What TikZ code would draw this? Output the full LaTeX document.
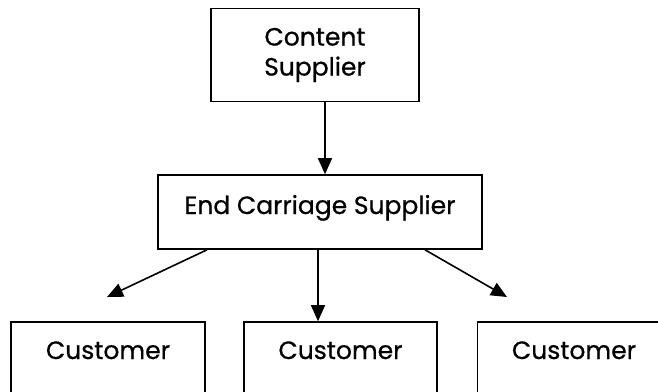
\documentclass[tikz,border=0pt]{standalone}
\usepackage{fontspec}
\setmainfont{Poppins}[FakeBold=0.7]
\usetikzlibrary{arrows.meta}
\begin{document}
\begin{tikzpicture}[x=1pt,y=-1pt,
  box/.style={draw,line width=1.6pt,inner sep=0pt,font=\fontsize{25}{30}\selectfont},
  conn/.style={line width=1.6pt,-{Triangle[length=16pt,width=14pt]}}]
\useasboundingbox (0,0) rectangle (658,391);
\clip (0,0) rectangle (658,391);
\node[box,minimum width=208pt,minimum height=93pt,align=center] (cs) at (315,55) {Content\\Supplier};
\node[box,minimum width=324pt,text height=39pt,text depth=35pt,anchor=base] (ec) at (320,214) {End Carriage Supplier};
\node[box,minimum width=194pt,text height=37pt,text depth=60pt,anchor=base] (c1) at (108,359) {Customer};
\node[box,minimum width=193pt,text height=37pt,text depth=60pt,anchor=base] (c2) at (340.5,359) {Customer};
\node[box,minimum width=193pt,text height=37pt,text depth=60pt,anchor=base] (c3) at (574,359) {Customer};
\coordinate (p1) at (325,0);
\coordinate (p2) at (318,0);
\coordinate (s1) at (207,0);
\coordinate (s2) at (425,0);
\coordinate (t1) at (107,297);
\coordinate (t2) at (507,297);
\draw[conn] (cs.south -| p1) -- (ec.north -| p1);
\draw[conn] (ec.south -| p2) -- (c2.north -| p2);
\draw[conn] (ec.south -| s1) -- (t1);
\draw[conn] (ec.south -| s2) -- (t2);
\end{tikzpicture}
\end{document}
